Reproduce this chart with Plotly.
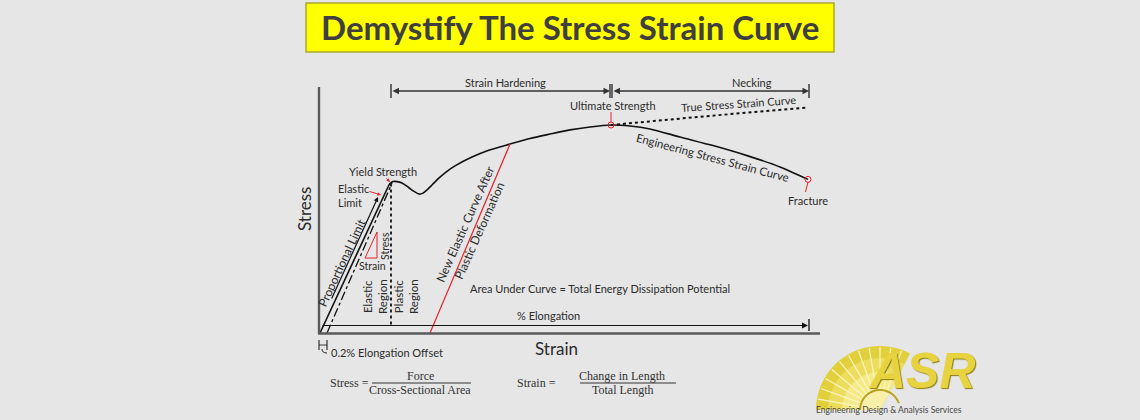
import plotly.graph_objects as go
import math

W, H = 1140, 420

# ---------------- data (strain, stress in arbitrary units) -------------
strain_elastic = [0.1, 6.9]
stress_elastic = [0.0, 59.6]
strain_plastic = [6.9, 7.1, 7.4, 7.8, 8.3, 8.9, 9.5, 10.0, 10.4, 10.8, 11.3, 11.9, 12.7, 13.6,
                  15.3, 16.9, 19.1, 21.1, 23.1, 25.1, 27.1, 29.2, 31.1, 33.1, 36.1, 39.4, 42.8,
                  46.1, 48.9]
stress_plastic = [59.6, 61.0, 61.8, 61.8, 61.2, 59.6, 57.8, 56.7, 57.1, 58.4, 60.4, 62.9, 65.7,
                  68.2, 71.8, 74.5, 77.1, 79.4, 81.2, 82.9, 84.1, 84.9, 84.5, 83.3, 80.0, 76.5,
                  72.4, 67.8, 62.7]
strain_true = [29.2, 39.0, 48.9]
stress_true = [84.9, 88.6, 92.0]
strain_offset = [0.8, 7.3]          # 0.2 % offset line
stress_offset = [0.0, 61.2]
strain_new_elastic = [11.1, 19.1]   # unloading line after plastic deformation
stress_new_elastic = [0.0, 77.1]
strain_yield_drop = [7.2, 7.2]
stress_yield_drop = [61.0, 3.3]
strain_triangle = [5.8, 5.8, 4.6, 5.8]
stress_triangle = [41.2, 30.6, 30.6, 41.2]
strain_marks = [29.2, 48.9]         # ultimate, fracture
stress_marks = [84.9, 62.7]

# ---------------- helpers: pixel position -> data / paper (for text & decoration) ----------
def dx(px):
    return (px - 319) / 10.0

def dy(py):
    return (333 - py) / 2.45

def ppx(px):
    return px / W

def ppy(py):
    return 1 - py / H

TXT = "#2b2b2b"
RED = "#e8202a"
FONT = "Lato"

fig = go.Figure()
fig.add_trace(go.Scatter(x=strain_elastic, y=stress_elastic, mode="lines",
                         line=dict(color="#111", width=1.6), hoverinfo="skip"))
fig.add_trace(go.Scatter(x=strain_plastic, y=stress_plastic, mode="lines",
                         line=dict(color="#111", width=1.6, shape="spline", smoothing=0.7),
                         hoverinfo="skip"))
fig.add_trace(go.Scatter(x=strain_true, y=stress_true, mode="lines",
                         line=dict(color="#111", width=2, dash="dot"), hoverinfo="skip"))
fig.add_trace(go.Scatter(x=strain_offset, y=stress_offset, mode="lines",
                         line=dict(color="#111", width=1.3, dash="dashdot"), hoverinfo="skip"))
fig.add_trace(go.Scatter(x=strain_new_elastic, y=stress_new_elastic, mode="lines",
                         line=dict(color=RED, width=1.2), hoverinfo="skip"))
fig.add_trace(go.Scatter(x=strain_yield_drop, y=stress_yield_drop, mode="lines",
                         line=dict(color="#111", width=1.8, dash="dot"), hoverinfo="skip"))
fig.add_trace(go.Scatter(x=strain_triangle, y=stress_triangle, mode="lines",
                         line=dict(color=RED, width=1), hoverinfo="skip"))
fig.add_trace(go.Scatter(x=strain_marks, y=stress_marks, mode="markers",
                         marker=dict(symbol="circle-open", size=6, color=RED, line=dict(width=1)),
                         hoverinfo="skip"))

shapes = []
ann = []

def line(x0, y0, x1, y1, color="#111", width=1.5, dash="solid", ref="x"):
    shapes.append(dict(type="line", xref=ref, yref="y" if ref == "x" else "paper",
                       x0=x0, y0=y0, x1=x1, y1=y1, line=dict(color=color, width=width, dash=dash)))

def lab(text, px, py, size=11, angle=0, color=TXT, xanchor="center", font=FONT, align="center"):
    ann.append(dict(text=text, x=dx(px), y=dy(py), xref="x", yref="y", showarrow=False,
                    textangle=angle, xanchor=xanchor, yanchor="middle", align=align,
                    font=dict(family=font, size=size, color=color)))

def arrow(px0, py0, px1, py1, color="#111", width=1.2, head=2, size=1.0, side="end"):
    ann.append(dict(text="", x=dx(px1), y=dy(py1), ax=dx(px0), ay=dy(py0), xref="x", yref="y",
                    axref="x", ayref="y", showarrow=True, arrowhead=head, arrowsize=size,
                    arrowwidth=width, arrowcolor=color, arrowside=side, standoff=0, startstandoff=0))

# axes
line(dx(319), dy(87), dx(319), dy(334), color="#5a5a5a", width=2.4)
line(dx(318), dy(333.5), dx(820), dy(333.5), color="#5a5a5a", width=2.4)

# strain hardening / necking dimension arrows
arrow(391, 91, 610, 91, color="#333", width=1.3, side="end+start")
arrow(612, 91, 809, 91, color="#333", width=1.3, side="end+start")
for tx in (391, 610, 612, 809):
    line(dx(tx), dy(84), dx(tx), dy(98), color="#222", width=1.3)

# % elongation arrow
arrow(321, 325.5, 808, 325.5, color="#111", width=1.2)
line(dx(809), dy(319), dx(809), dy(331), color="#111", width=1.3)

# 0.2% offset marker
line(dx(319), dy(340), dx(319), dy(350), color="#111", width=1)
line(dx(327), dy(340), dx(327), dy(350), color="#111", width=1)
line(dx(319), dy(345), dx(327), dy(345), color="#111", width=0.8)
shapes.append(dict(type="path", xref="x", yref="y",
                   path=f"M {dx(322)},{dy(349)} Q {dx(322)},{dy(353)} {dx(327)},{dy(353)}",
                   line=dict(color="#111", width=0.9)))

# proportional limit arrow line
arrow(331, 300, 378, 197, color="#111", width=1.2, head=2, size=0.8)

# red pointers
arrow(385, 177, 390, 182, color=RED, width=1, head=2, size=0.7)
arrow(368, 191, 381, 195, color=RED, width=1, head=2, size=0.7)
line(dx(611), dy(112), dx(611), dy(122), color=RED, width=1)
line(dx(808), dy(182), dx(805.5), dy(192), color=RED, width=1)

# text labels
lab("Strain Hardening", 505, 82)
lab("Necking", 752, 82)
lab("Ultimate Strength", 613, 105)
lab("True Stress Strain Curve", 738, 103, angle=-4)
lab("Engineering Stress Strain Curve", 713, 157, size=11.5, angle=15)
lab("Fracture", 808, 200)
lab("Yield Strength", 383, 171)
lab("Elastic<br>Limit", 336, 195, xanchor="left", align="left")
lab("Proportional Limit", 341, 263, size=12, angle=-65)
lab("Stress", 385, 246, size=10.5, angle=-90)
lab("Strain", 372, 266, size=10.5)
lab("Elastic<br>Region", 375, 297, size=11.5, angle=-90)
lab("Plastic<br>Region", 406, 297, size=11.5, angle=-90)
lab("New Elastic Curve After<br>Plastic Deformation", 472, 227, size=12, angle=-66)
lab("Area Under Curve = Total Energy Dissipation Potential", 600, 288)
lab("% Elongation", 548, 315)
lab("0.2% Elongation Offset", 329, 352, xanchor="left")
lab("Strain", 556, 348, size=17)
lab("Stress", 304, 209, size=17, angle=-90)

# formulas (paper coords)
SERIF = "Liberation Serif"
def ptxt(text, px, py, size=12, color="#333", font=SERIF, xanchor="center", shadow=None):
    f = dict(family=font, size=size, color=color)
    if shadow:
        f["shadow"] = shadow
    ann.append(dict(text=text, x=ppx(px), y=ppy(py), xref="paper", yref="paper", showarrow=False,
                    xanchor=xanchor, yanchor="middle", font=f))

ptxt("Stress =", 349, 383)
ptxt("Force", 420, 376)
ptxt("Cross-Sectional Area", 420, 390)
line(ppx(372), ppy(383), ppx(471), ppy(383), color="#333", width=1, ref="paper")
ptxt("Strain =", 536, 383)
ptxt("Change in Length", 622, 376)
ptxt("Total Length", 622, 390)
line(ppx(580), ppy(383), ppx(676), ppy(383), color="#333", width=1, ref="paper")

# title box
shapes.append(dict(type="rect", xref="paper", yref="paper", x0=ppx(306), x1=ppx(834),
                   y0=ppy(52), y1=ppy(3), fillcolor="#ffff00",
                   line=dict(color="#a9a92a", width=1.5), layer="below"))
ptxt("<b>Demystify The Stress Strain Curve</b>", 570, 27, size=33, color="#3f3f3f", font=FONT)

# logo (decoration)
cx, cy = 880, 410
def sector(r, a0, a1, n=40, closed=True):
    pts = [(cx, cy)] if closed else []
    for i in range(n + 1):
        a = math.radians(a0 + (a1 - a0) * i / n)
        pts.append((cx + r * math.cos(a), cy - r * math.sin(a)))
    return "M " + " L ".join(f"{ppx(x):.5f},{ppy(y):.5f}" for x, y in pts) + (" Z" if closed else "")

for r, col in ((64, "#e2cf3c"), (52, "#ecdd5e"), (38, "#f4ea8a"), (22, "#f8f0a8")):
    shapes.append(dict(type="path", xref="paper", yref="paper", path=sector(r, 180, 62),
                       fillcolor=col, line=dict(width=0)))
for k in range(12):
    a = math.radians(180 - k * 10)
    shapes.append(dict(type="line", xref="paper", yref="paper",
                       x0=ppx(cx + 18 * math.cos(a)), y0=ppy(cy - 18 * math.sin(a)),
                       x1=ppx(cx + 63 * math.cos(a)), y1=ppy(cy - 63 * math.sin(a)),
                       line=dict(color="#fbf5c0", width=1.2)))
shapes.append(dict(type="path", xref="paper", yref="paper",
                   path=sector(20, 180, 20, closed=False),
                   line=dict(color="#b9a31e", width=2)))
ptxt("<b><i>ASR</i></b>", 922, 371, size=50, color="#e6d33f",
     font="Liberation Sans Narrow, Liberation Sans", shadow="1px 1px 1px #8c7c12")
ptxt("Engineering Design &amp; Analysis Services", 889, 410, size=8.5, color="#444", font=FONT)

fig.update_layout(
    width=W, height=H, autosize=False,
    margin=dict(l=0, r=0, t=0, b=0),
    paper_bgcolor="#e6e6e6", plot_bgcolor="#e6e6e6",
    showlegend=False,
    xaxis=dict(range=[dx(0), dx(W)], visible=False, domain=[0, 1], fixedrange=True),
    yaxis=dict(range=[dy(H), dy(0)], visible=False, domain=[0, 1], fixedrange=True),
    shapes=shapes, annotations=ann,
)
fig.write_html("out.html", config={"displayModeBar": False},
               post_script="document.body.style.margin='0';document.body.style.overflow='hidden';")
